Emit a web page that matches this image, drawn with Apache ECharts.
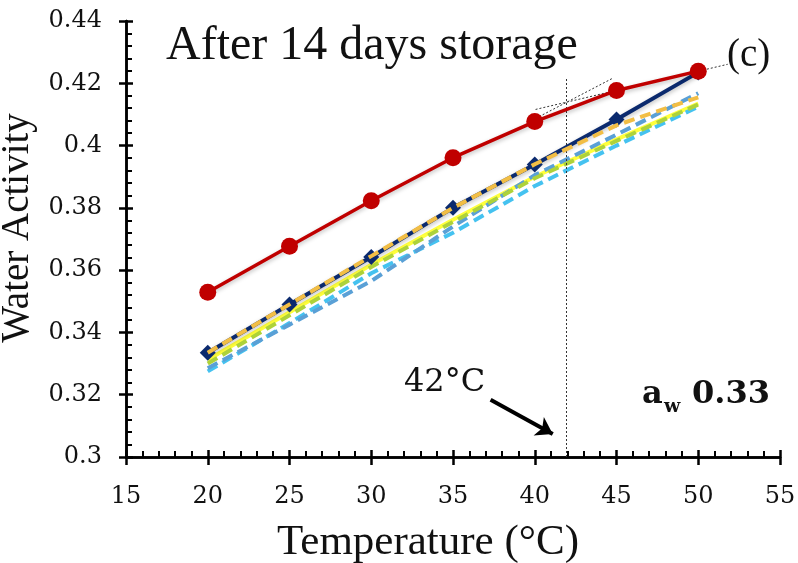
<!DOCTYPE html>
<html>
<head>
<meta charset="utf-8">
<script src="https://cdn.jsdelivr.net/npm/echarts@6/dist/echarts.min.js"></script>
<style>
  html, body { margin: 0; padding: 0; background: #fff; }
  #chart { width: 798px; height: 563px; }
</style>
</head>
<body>
<div id="chart"></div>
<script>
// 温度 (°C)
var temps = [20, 25, 30, 35, 40, 45, 50];
// 实测值
var redVals  = [0.3529, 0.3677, 0.3823, 0.3961, 0.4077, 0.4177, 0.4239];
var navyVals = [0.3335, 0.3490, 0.3642, 0.3800, 0.3939, 0.4084, 0.4235];
// 模型曲线
var goldVals   = [0.3335, 0.3490, 0.3645, 0.3800, 0.3940, 0.4065, 0.4155];
var yellowVals = [0.3312, 0.3465, 0.3617, 0.3762, 0.3900, 0.4020, 0.4135];
var greenVals  = [0.3300, 0.3455, 0.3610, 0.3755, 0.3895, 0.4015, 0.4132];
var steelVals  = [0.3285, 0.3425, 0.3565, 0.3740, 0.3905, 0.4035, 0.4168];
var skyVals    = [0.3275, 0.3430, 0.3590, 0.3720, 0.3870, 0.4000, 0.4125];

var yTicks = ['0.3', '0.32', '0.34', '0.36', '0.38', '0.4', '0.42', '0.44'];

var chart = echarts.init(document.getElementById('chart'));

function pairs(vals) {
    return temps.map(function (t, i) { return [t, vals[i]]; });
}

function dashed(name, color, vals, z) {
    return {
        name: name, type: 'line', data: pairs(vals), z: z,
        symbol: 'none', smooth: false,
        lineStyle: { color: color, width: 4, type: [11, 6] }
    };
}

var serif = 'Liberation Serif';
var tickFont = 'DejaVu Serif';

var gridBox = { left: 126, right: 18, top: 21, bottom: 106, outerBoundsMode: 'none', containLabel: false };

var option = {
    animation: false,
    backgroundColor: '#fff',
    grid: [
        Object.assign({}, gridBox),
        Object.assign({}, gridBox)
    ],
    xAxis: [{
        type: 'value', gridIndex: 0, min: 15, max: 55, interval: 5,
        name: 'Temperature (°C)', nameLocation: 'middle', nameGap: 64,
        nameTextStyle: { fontFamily: serif, fontSize: 43, color: '#111', padding: [0, 50, 0, 0] },
        axisLine: { lineStyle: { color: '#000', width: 2.5 } },
        axisTick: { inside: false, length: 8, lineStyle: { color: '#000', width: 2.5 } },
        axisLabel: { fontFamily: tickFont, fontSize: 24, color: '#111', margin: 28 },
        splitLine: { show: false }
    }, {
        type: 'value', gridIndex: 1, min: 15, max: 55, interval: 5,
        axisLine: { lineStyle: { color: '#000', width: 2.5 } },
        axisTick: { inside: true, length: 7, lineStyle: { color: '#000', width: 2.5 } },
        minorTick: { show: true, splitNumber: 5, length: 6, lineStyle: { color: '#000', width: 2 } },
        axisLabel: { show: false },
        splitLine: { show: false }
    }],
    yAxis: [{
        type: 'value', gridIndex: 0, min: 0.3, max: 0.44, interval: 0.02,
        name: 'Water Activity', nameLocation: 'middle', nameGap: 86,
        nameTextStyle: { fontFamily: serif, fontSize: 39, color: '#111', padding: [0, 0, 0, 22] },
        axisLine: { lineStyle: { color: '#000', width: 2.5 } },
        axisTick: { inside: false, length: 7, lineStyle: { color: '#000', width: 2.5 } },
        axisLabel: {
            fontFamily: tickFont, fontSize: 24, color: '#111', margin: 24,
            formatter: function (v) { return yTicks[Math.round((v - 0.3) / 0.02)]; }
        },
        splitLine: { show: false }
    }, {
        type: 'value', gridIndex: 1, min: 0.3, max: 0.44, interval: 0.02,
        axisLine: { lineStyle: { color: '#000', width: 2.5 } },
        axisTick: { inside: true, length: 7, lineStyle: { color: '#000', width: 2.5 } },
        minorTick: { show: true, splitNumber: 5, length: 6, lineStyle: { color: '#000', width: 2 } },
        axisLabel: { show: false },
        splitLine: { show: false }
    }],
    series: [
        {
            name: 'yellow', type: 'line', data: pairs(yellowVals), z: 2,
            symbol: 'none', lineStyle: { color: '#FFFF3C', width: 4 }
        },
        dashed('sky', '#45C2F0', skyVals, 3),
        dashed('steel', '#5AA0D6', steelVals, 3),
        dashed('green', '#AED23A', greenVals, 4),
        {
            name: 'navy', type: 'line', data: pairs(navyVals), z: 5,
            symbol: 'diamond', symbolSize: 16,
            itemStyle: { color: '#0B2A6E' },
            lineStyle: { color: '#0B2A6E', width: 4, shadowColor: 'rgba(0,0,0,0.25)', shadowBlur: 4, shadowOffsetY: 2 }
        },
        dashed('gold', '#F2BE45', goldVals, 6),
        {
            name: 'red', type: 'line', data: pairs(redVals), z: 7,
            symbol: 'circle', symbolSize: 17,
            itemStyle: { color: '#C00000' },
            lineStyle: { color: '#C00000', width: 3.5, shadowColor: 'rgba(0,0,0,0.25)', shadowBlur: 4, shadowOffsetY: 2 }
        },
        {
            name: 'guides', type: 'line', data: [], z: 8,
            markLine: {
                silent: true, symbol: 'none', animation: false,
                label: { show: false },
                lineStyle: { color: '#333', width: 1, type: [2, 2] },
                data: [
                    [{ coord: [41.9, 0.3] }, { coord: [41.9, 0.4216] }],
                    [{ coord: [40.05, 0.4087] }, { coord: [44.76, 0.4216] }],
                    [{ coord: [40.05, 0.4116] }, { coord: [51.8, 0.4261] }]
                ]
            }
        },
        {
            name: 'arrow', type: 'line', data: [], z: 9,
            markLine: {
                silent: true, symbol: ['none', 'arrow'], symbolSize: 16, animation: false,
                label: { show: false },
                lineStyle: { color: '#000', width: 4, type: 'solid' },
                data: [
                    [{ coord: [37.3, 0.3184] }, { coord: [41.1, 0.3074] }]
                ]
            }
        }
    ],
    graphic: [
        { type: 'text', left: 166, top: 22, style: { text: 'After 14 days storage', font: '48px "Liberation Serif"', fill: '#111' } },
        { type: 'text', left: 727, top: 36, style: { text: '(c)', font: '39px "Liberation Serif"', fill: '#111' } },
        { type: 'text', left: 404, top: 367, style: { text: '42°C', font: '32px "DejaVu Serif"', fill: '#111' } },
        { type: 'text', left: 642, top: 379, style: { text: 'a', font: 'bold 32px "DejaVu Serif"', fill: '#111' } },
        { type: 'text', left: 664, top: 398, style: { text: 'w', font: 'bold 19px "DejaVu Serif"', fill: '#111' } },
        { type: 'text', left: 692, top: 379, style: { text: '0.33', font: 'bold 32px "DejaVu Serif"', fill: '#111' } }
    ]
};

chart.setOption(option);
</script>
</body>
</html>
